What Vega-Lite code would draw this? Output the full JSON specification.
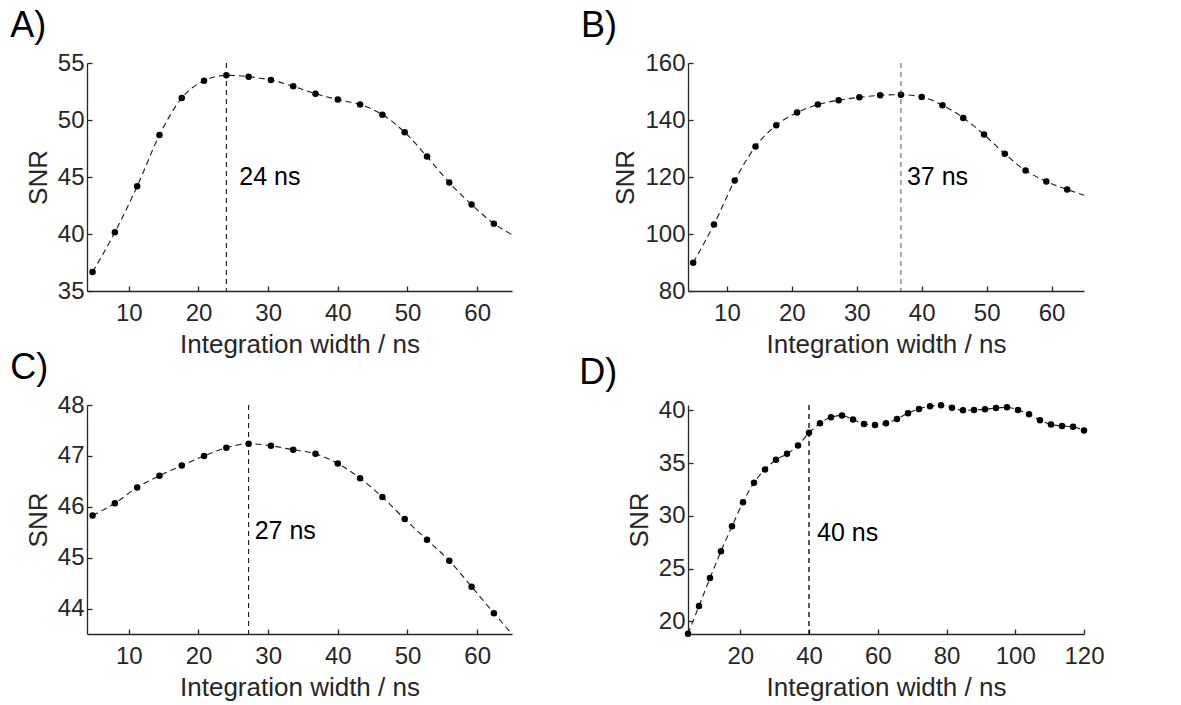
{
  "$schema": "https://vega.github.io/schema/vega-lite/v6.json",
  "padding": {"left": 10, "top": 8, "right": 5, "bottom": 5},
  "background": "white",
  "datasets": {
    "snr": [
      {"p":"A","x":4.8,"y":36.67,"pt":1},{"p":"A","x":8.0,"y":40.15,"pt":1},{"p":"A","x":11.2,"y":44.18,"pt":1},{"p":"A","x":14.4,"y":48.68,"pt":1},{"p":"A","x":17.6,"y":51.93,"pt":1},{"p":"A","x":20.8,"y":53.45,"pt":1},{"p":"A","x":24.0,"y":53.92,"pt":1},{"p":"A","x":27.2,"y":53.8,"pt":1},{"p":"A","x":30.4,"y":53.5,"pt":1},{"p":"A","x":33.6,"y":52.96,"pt":1},{"p":"A","x":36.8,"y":52.3,"pt":1},{"p":"A","x":40.0,"y":51.8,"pt":1},{"p":"A","x":43.2,"y":51.35,"pt":1},{"p":"A","x":46.4,"y":50.47,"pt":1},{"p":"A","x":49.6,"y":48.92,"pt":1},{"p":"A","x":52.8,"y":46.79,"pt":1},{"p":"A","x":56.0,"y":44.51,"pt":1},{"p":"A","x":59.2,"y":42.58,"pt":1},{"p":"A","x":62.4,"y":40.91,"pt":1},{"p":"A","x":65.0,"y":39.95,"pt":0},
      {"p":"B","x":4.8,"y":89.93,"pt":1},{"p":"B","x":8.0,"y":103.36,"pt":1},{"p":"B","x":11.2,"y":118.77,"pt":1},{"p":"B","x":14.4,"y":130.69,"pt":1},{"p":"B","x":17.6,"y":138.16,"pt":1},{"p":"B","x":20.8,"y":142.6,"pt":1},{"p":"B","x":24.0,"y":145.4,"pt":1},{"p":"B","x":27.2,"y":146.92,"pt":1},{"p":"B","x":30.4,"y":147.97,"pt":1},{"p":"B","x":33.6,"y":148.67,"pt":1},{"p":"B","x":36.8,"y":148.9,"pt":1},{"p":"B","x":40.0,"y":148.09,"pt":1},{"p":"B","x":43.2,"y":145.17,"pt":1},{"p":"B","x":46.4,"y":140.73,"pt":1},{"p":"B","x":49.6,"y":134.89,"pt":1},{"p":"B","x":52.8,"y":128.12,"pt":1},{"p":"B","x":56.0,"y":122.28,"pt":1},{"p":"B","x":59.2,"y":118.42,"pt":1},{"p":"B","x":62.4,"y":115.62,"pt":1},{"p":"B","x":65.0,"y":113.6,"pt":0},
      {"p":"C","x":4.8,"y":45.83,"pt":1},{"p":"C","x":8.0,"y":46.07,"pt":1},{"p":"C","x":11.2,"y":46.38,"pt":1},{"p":"C","x":14.4,"y":46.61,"pt":1},{"p":"C","x":17.6,"y":46.81,"pt":1},{"p":"C","x":20.8,"y":47.0,"pt":1},{"p":"C","x":24.0,"y":47.16,"pt":1},{"p":"C","x":27.2,"y":47.24,"pt":1},{"p":"C","x":30.4,"y":47.2,"pt":1},{"p":"C","x":33.6,"y":47.12,"pt":1},{"p":"C","x":36.8,"y":47.04,"pt":1},{"p":"C","x":40.0,"y":46.85,"pt":1},{"p":"C","x":43.2,"y":46.56,"pt":1},{"p":"C","x":46.4,"y":46.19,"pt":1},{"p":"C","x":49.6,"y":45.76,"pt":1},{"p":"C","x":52.8,"y":45.35,"pt":1},{"p":"C","x":56.0,"y":44.94,"pt":1},{"p":"C","x":59.2,"y":44.43,"pt":1},{"p":"C","x":62.4,"y":43.91,"pt":1},{"p":"C","x":65.0,"y":43.5,"pt":0},
      {"p":"D","x":4.8,"y":18.83,"pt":1},{"p":"D","x":8.0,"y":21.45,"pt":1},{"p":"D","x":11.2,"y":24.1,"pt":1},{"p":"D","x":14.4,"y":26.65,"pt":1},{"p":"D","x":17.6,"y":29.0,"pt":1},{"p":"D","x":20.8,"y":31.28,"pt":1},{"p":"D","x":24.0,"y":33.13,"pt":1},{"p":"D","x":27.2,"y":34.39,"pt":1},{"p":"D","x":30.4,"y":35.31,"pt":1},{"p":"D","x":33.6,"y":35.87,"pt":1},{"p":"D","x":36.8,"y":36.66,"pt":1},{"p":"D","x":40.0,"y":37.86,"pt":1},{"p":"D","x":43.2,"y":38.77,"pt":1},{"p":"D","x":46.4,"y":39.34,"pt":1},{"p":"D","x":49.6,"y":39.5,"pt":1},{"p":"D","x":52.8,"y":39.12,"pt":1},{"p":"D","x":56.0,"y":38.71,"pt":1},{"p":"D","x":59.2,"y":38.61,"pt":1},{"p":"D","x":62.4,"y":38.77,"pt":1},{"p":"D","x":65.6,"y":39.18,"pt":1},{"p":"D","x":68.8,"y":39.72,"pt":1},{"p":"D","x":72.0,"y":40.13,"pt":1},{"p":"D","x":75.2,"y":40.38,"pt":1},{"p":"D","x":78.4,"y":40.47,"pt":1},{"p":"D","x":81.6,"y":40.25,"pt":1},{"p":"D","x":84.8,"y":40.0,"pt":1},{"p":"D","x":88.0,"y":40.03,"pt":1},{"p":"D","x":91.2,"y":40.09,"pt":1},{"p":"D","x":94.4,"y":40.22,"pt":1},{"p":"D","x":97.6,"y":40.28,"pt":1},{"p":"D","x":100.8,"y":40.03,"pt":1},{"p":"D","x":104.0,"y":39.62,"pt":1},{"p":"D","x":107.2,"y":39.06,"pt":1},{"p":"D","x":110.4,"y":38.65,"pt":1},{"p":"D","x":113.6,"y":38.52,"pt":1},{"p":"D","x":116.8,"y":38.43,"pt":1},{"p":"D","x":120.0,"y":38.08,"pt":1}
    ],
    "peaks": [
      {"p":"A","x":24.0,"ty":45,"label":"24 ns"},
      {"p":"B","x":36.8,"ty":120,"label":"37 ns"},
      {"p":"C","x":27.2,"ty":45.52,"label":"27 ns"},
      {"p":"D","x":40.0,"ty":28.4,"label":"40 ns"}
    ]
  },
  "columns": 2,
  "spacing": {"row": -7, "column": 64},
  "concat": [
    {
      "title": {"text": "A)", "dx": -15},
      "width": 425, "height": 228,
      "data": {"name": "snr"},
      "layer": [
        {"transform": [{"filter": "datum.p === 'A'"}],
         "mark": {"type": "line", "interpolate": "monotone", "strokeDash": [6, 4], "color": "#1a1a1a", "strokeWidth": 1.1},
         "encoding": {
           "x": {"field": "x", "type": "quantitative", "scale": {"domain": [4, 65], "nice": false, "zero": false}, "axis": {"title": "Integration width / ns", "values": [10, 20, 30, 40, 50, 60]}},
           "y": {"field": "y", "type": "quantitative", "scale": {"domain": [35, 55], "nice": false, "zero": false}, "axis": {"title": "SNR", "values": [35, 40, 45, 50, 55]}}}},
        {"transform": [{"filter": "datum.p === 'A' && datum.pt === 1"}],
         "mark": {"type": "circle", "size": 42, "color": "black", "opacity": 1},
         "encoding": {"x": {"field": "x", "type": "quantitative"}, "y": {"field": "y", "type": "quantitative"}}},
        {"data": {"name": "peaks"}, "transform": [{"filter": "datum.p === 'A'"}],
         "mark": {"type": "rule", "strokeDash": [5, 4], "color": "black", "strokeWidth": 1},
         "encoding": {"x": {"field": "x", "type": "quantitative"}}},
        {"data": {"name": "peaks"}, "transform": [{"filter": "datum.p === 'A'"}],
         "mark": {"type": "text", "align": "left", "dx": 13, "fontSize": 25, "color": "black"},
         "encoding": {"x": {"field": "x", "type": "quantitative"}, "y": {"field": "ty", "type": "quantitative"}, "text": {"field": "label"}}}
      ]
    },
    {
      "title": {"text": "B)", "dx": -32},
      "width": 396, "height": 228,
      "data": {"name": "snr"},
      "layer": [
        {"transform": [{"filter": "datum.p === 'B'"}],
         "mark": {"type": "line", "interpolate": "monotone", "strokeDash": [6, 4], "color": "#1a1a1a", "strokeWidth": 1.1},
         "encoding": {
           "x": {"field": "x", "type": "quantitative", "scale": {"domain": [4, 65], "nice": false, "zero": false}, "axis": {"title": "Integration width / ns", "values": [10, 20, 30, 40, 50, 60]}},
           "y": {"field": "y", "type": "quantitative", "scale": {"domain": [80, 160], "nice": false, "zero": false}, "axis": {"title": "SNR", "values": [80, 100, 120, 140, 160]}}}},
        {"transform": [{"filter": "datum.p === 'B' && datum.pt === 1"}],
         "mark": {"type": "circle", "size": 42, "color": "black", "opacity": 1},
         "encoding": {"x": {"field": "x", "type": "quantitative"}, "y": {"field": "y", "type": "quantitative"}}},
        {"data": {"name": "peaks"}, "transform": [{"filter": "datum.p === 'B'"}],
         "mark": {"type": "rule", "strokeDash": [5, 4], "color": "#555555", "strokeWidth": 1},
         "encoding": {"x": {"field": "x", "type": "quantitative"}}},
        {"data": {"name": "peaks"}, "transform": [{"filter": "datum.p === 'B'"}],
         "mark": {"type": "text", "align": "left", "dx": 6, "fontSize": 25, "color": "black"},
         "encoding": {"x": {"field": "x", "type": "quantitative"}, "y": {"field": "ty", "type": "quantitative"}, "text": {"field": "label"}}}
      ]
    },
    {
      "title": {"text": "C)", "dx": -15},
      "width": 425, "height": 229,
      "data": {"name": "snr"},
      "layer": [
        {"transform": [{"filter": "datum.p === 'C'"}],
         "mark": {"type": "line", "interpolate": "monotone", "strokeDash": [6, 4], "color": "#1a1a1a", "strokeWidth": 1.1},
         "encoding": {
           "x": {"field": "x", "type": "quantitative", "scale": {"domain": [4, 65], "nice": false, "zero": false}, "axis": {"title": "Integration width / ns", "values": [10, 20, 30, 40, 50, 60]}},
           "y": {"field": "y", "type": "quantitative", "scale": {"domain": [43.5, 48], "nice": false, "zero": false}, "axis": {"title": "SNR", "values": [44, 45, 46, 47, 48]}}}},
        {"transform": [{"filter": "datum.p === 'C' && datum.pt === 1"}],
         "mark": {"type": "circle", "size": 42, "color": "black", "opacity": 1},
         "encoding": {"x": {"field": "x", "type": "quantitative"}, "y": {"field": "y", "type": "quantitative"}}},
        {"data": {"name": "peaks"}, "transform": [{"filter": "datum.p === 'C'"}],
         "mark": {"type": "rule", "strokeDash": [5, 4], "color": "black", "strokeWidth": 1},
         "encoding": {"x": {"field": "x", "type": "quantitative"}}},
        {"data": {"name": "peaks"}, "transform": [{"filter": "datum.p === 'C'"}],
         "mark": {"type": "text", "align": "left", "dx": 6, "fontSize": 25, "color": "black"},
         "encoding": {"x": {"field": "x", "type": "quantitative"}, "y": {"field": "ty", "type": "quantitative"}, "text": {"field": "label"}}}
      ]
    },
    {
      "title": {"text": "D)", "dx": -47},
      "width": 396, "height": 229,
      "data": {"name": "snr"},
      "layer": [
        {"transform": [{"filter": "datum.p === 'D'"}],
         "mark": {"type": "line", "interpolate": "monotone", "strokeDash": [6, 4], "color": "#1a1a1a", "strokeWidth": 1.1},
         "encoding": {
           "x": {"field": "x", "type": "quantitative", "scale": {"domain": [4.8, 120], "nice": false, "zero": false}, "axis": {"title": "Integration width / ns", "values": [20, 40, 60, 80, 100, 120]}},
           "y": {"field": "y", "type": "quantitative", "scale": {"domain": [18.8, 40.5], "nice": false, "zero": false}, "axis": {"title": "SNR", "values": [20, 25, 30, 35, 40]}}}},
        {"transform": [{"filter": "datum.p === 'D' && datum.pt === 1"}],
         "mark": {"type": "circle", "size": 42, "color": "black", "opacity": 1},
         "encoding": {"x": {"field": "x", "type": "quantitative"}, "y": {"field": "y", "type": "quantitative"}}},
        {"data": {"name": "peaks"}, "transform": [{"filter": "datum.p === 'D'"}],
         "mark": {"type": "rule", "strokeDash": [5, 4], "color": "black", "strokeWidth": 1.3},
         "encoding": {"x": {"field": "x", "type": "quantitative"}}},
        {"data": {"name": "peaks"}, "transform": [{"filter": "datum.p === 'D'"}],
         "mark": {"type": "text", "align": "left", "dx": 8, "fontSize": 25, "color": "black"},
         "encoding": {"x": {"field": "x", "type": "quantitative"}, "y": {"field": "ty", "type": "quantitative"}, "text": {"field": "label"}}}
      ]
    }
  ],
  "config": {
    "font": "Liberation Sans",
    "view": {"stroke": null},
    "axis": {
      "grid": false,
      "domainColor": "#262626", "domainWidth": 1.3,
      "tickColor": "#262626", "tickWidth": 1.3, "tickSize": -5,
      "labelFontSize": 24, "labelColor": "#262626", "labelFont": "Liberation Sans",
      "titleFontSize": 26, "titleColor": "#262626", "titleFontWeight": "normal", "titleFont": "Liberation Sans"
    },
    "axisX": {"labelPadding": 15, "titlePadding": 6, "labelFlush": false},
    "axisY": {"labelPadding": 8, "titlePadding": 6, "labelFlush": false},
    "title": {"fontSize": 36, "fontWeight": "normal", "anchor": "start", "frame": "bounds", "color": "black", "font": "Liberation Sans", "offset": 6}
  }
}
